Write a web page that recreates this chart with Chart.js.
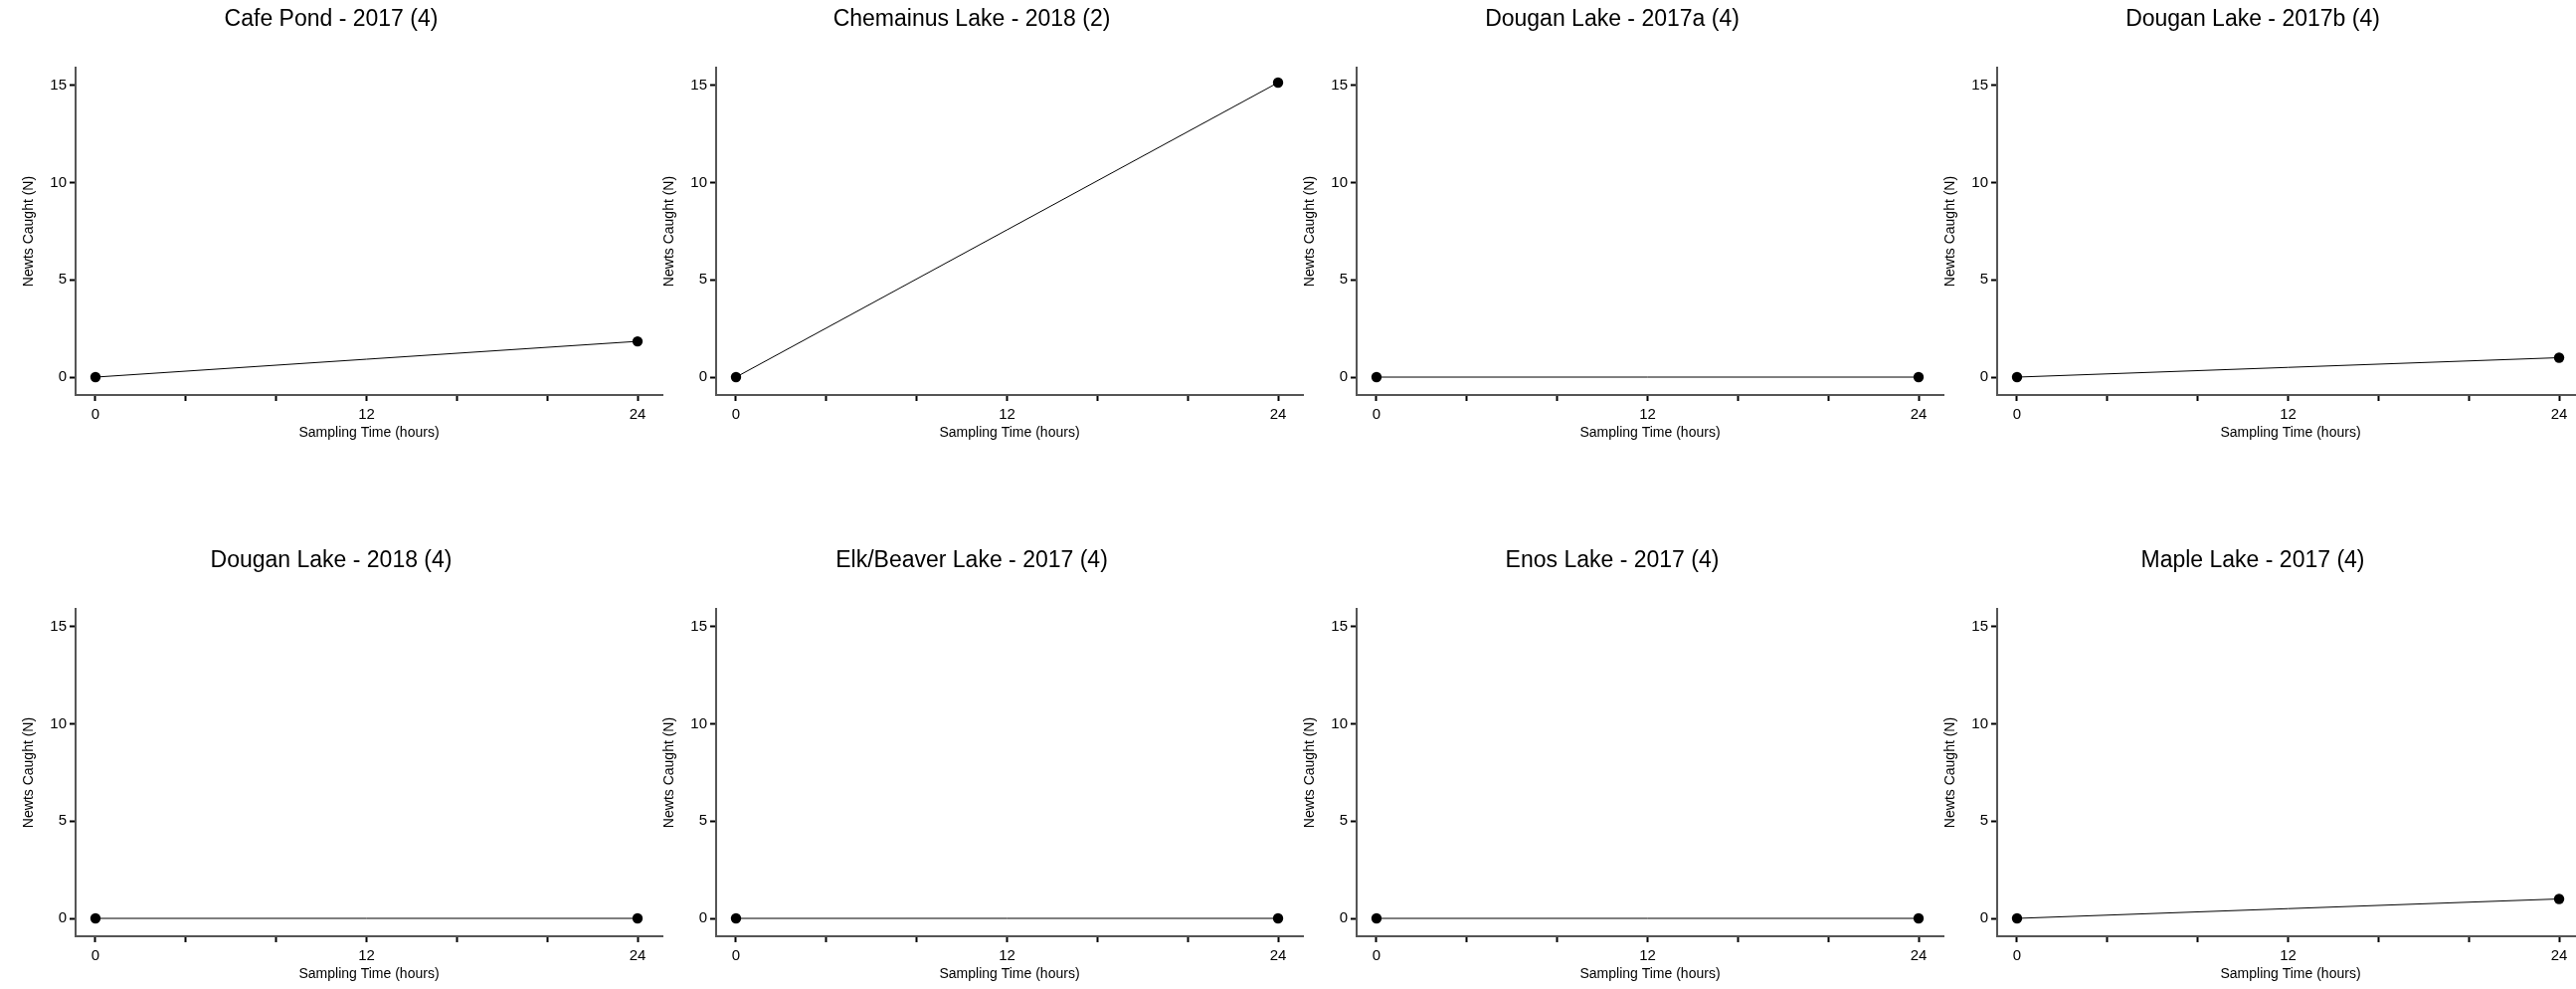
<!DOCTYPE html>
<html>
<head>
<meta charset="utf-8">
<title>Newts caught by site</title>
<script src="https://cdn.jsdelivr.net/npm/chart.js@4.4.1/dist/chart.umd.min.js"></script>
<style>
  html, body { margin: 0; padding: 0; background: #fff; width: 2590px; height: 994px; overflow: hidden; }
  .panel { position: absolute; }
</style>
</head>
<body>
<div id="paneles"></div>
<script>
/*********************************************************
*                                                        *
*        Datos: capturas por sitio (0 h y 24 h)          *
*                                                        *
**********************************************************/

var siteTitles = [
  "Cafe Pond - 2017 (4)",
  "Chemainus Lake - 2018 (2)",
  "Dougan Lake - 2017a (4)",
  "Dougan Lake - 2017b (4)",
  "Dougan Lake - 2018 (4)",
  "Elk/Beaver Lake - 2017 (4)",
  "Enos Lake - 2017 (4)",
  "Maple Lake - 2017 (4)"
];

var samplingHours = [0, 24];

var cafePond2017     = [0, 1.84];
var chemainus2018    = [0, 15.15];
var dougan2017a      = [0, 0];
var dougan2017b      = [0, 1.0];
var dougan2018       = [0, 0];
var elkBeaver2017    = [0, 0];
var enos2017         = [0, 0];
var maple2017        = [0, 1.0];

var newtsCaught = [cafePond2017, chemainus2018, dougan2017a, dougan2017b,
                   dougan2018, elkBeaver2017, enos2017, maple2017];

var xTickValues  = [0, 4, 8, 12, 16, 20, 24];
var xTickLabels  = [0, 12, 24];
var yTickValues  = [0, 5, 10, 15];

Chart.defaults.font.family = '"Liberation Sans", Arial, sans-serif';
Chart.defaults.color = '#000';

/*********************************************************
*                                                        *
*        Un grafico por sitio, rejilla de 4 x 2          *
*                                                        *
**********************************************************/

var holder = document.getElementById("paneles");

for (var i = 0; i < siteTitles.length; i++) {

  var canvas = document.createElement("canvas");
  canvas.className = "panel";
  canvas.width = 672;
  canvas.height = 450;
  canvas.style.left = (644 * (i % 4)) + "px";
  canvas.style.top = (544 * Math.floor(i / 4)) + "px";
  holder.appendChild(canvas);

  var valores = newtsCaught[i];
  var puntos = samplingHours.map(function (h, j) {
    return { x: h, y: valores[j] };
  });

  var config = {
    type: 'line',
    data: {
      datasets: [{
        data: puntos,
        borderColor: '#000',
        borderWidth: 1,
        pointRadius: 5.2,
        pointBackgroundColor: '#000',
        pointBorderWidth: 0,
        fill: false,
        tension: 0
      }]
    },
    options: {
      responsive: false,
      animation: false,
      layout: { padding: { left: 0, right: 6, top: 0, bottom: 3 } },
      plugins: {
        legend: { display: false },
        tooltip: { enabled: false },
        title: {
          display: true,
          text: siteTitles[i],
          color: '#000',
          font: { size: 23, weight: 'normal' },
          padding: { top: 6.2, bottom: 34.2 }
        }
      },
      scales: {
        x: {
          type: 'linear',
          min: -0.88,
          max: 25.1,
          afterBuildTicks: function (scale) {
            scale.ticks = xTickValues.map(function (v) { return { value: v }; });
          },
          afterFit: function (scale) { scale.height = 50; },
          ticks: {
            autoSkip: false,
            maxRotation: 0,
            padding: 5,
            color: '#000',
            font: { size: 15 },
            callback: function (v) {
              return xTickLabels.indexOf(v) >= 0 ? String(v) : '';
            }
          },
          grid: {
            drawOnChartArea: false,
            tickLength: 6,
            tickWidth: 2,
            tickColor: '#000'
          },
          border: { display: true, color: '#555', width: 2 },
          title: {
            display: true,
            text: 'Sampling Time (hours)',
            color: '#000',
            font: { size: 14 },
            padding: { top: 0, bottom: 3.6 }
          }
        },
        y: {
          type: 'linear',
          min: -0.92,
          max: 15.92,
          afterBuildTicks: function (scale) {
            scale.ticks = yTickValues.map(function (v) { return { value: v }; });
          },
          afterFit: function (scale) { scale.width = 76; },
          ticks: {
            padding: 3,
            color: '#000',
            font: { size: 15 }
          },
          grid: {
            drawOnChartArea: false,
            tickLength: 6,
            tickWidth: 2,
            tickColor: '#000'
          },
          border: { display: true, color: '#555', width: 2 },
          title: {
            display: true,
            text: 'Newts Caught (N)',
            color: '#000',
            font: { size: 14 },
            padding: { top: 21, bottom: 0 }
          }
        }
      }
    }
  };

  new Chart(canvas.getContext("2d"), config);
}
</script>
</body>
</html>
